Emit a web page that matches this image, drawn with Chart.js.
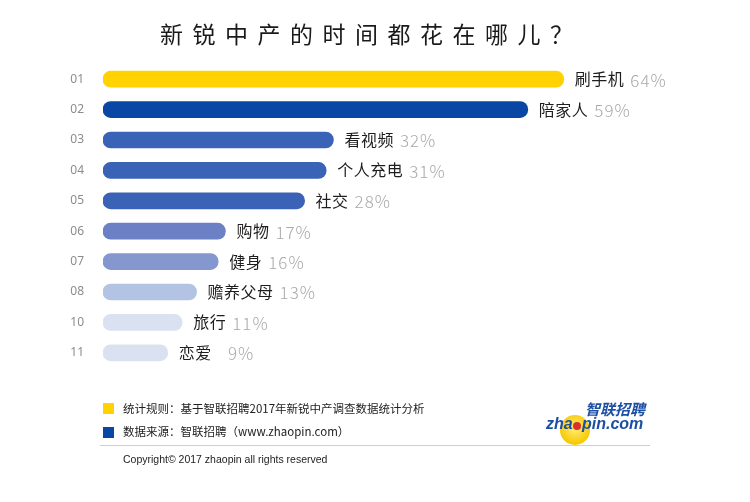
<!DOCTYPE html>
<html>
<head>
<meta charset="utf-8">
<script src="https://cdn.jsdelivr.net/npm/chart.js@4.4.1/dist/chart.umd.min.js"></script>
<style>
  html, body { margin: 0; padding: 0; background: #fff; }
  #wrap { position: relative; width: 750px; height: 502px; }
</style>
</head>
<body>
<div id="wrap"><canvas id="timeChart" width="750" height="502"></canvas></div>
<script>
// dados
const rankLabels = ['01', '02', '03', '04', '05', '06', '07', '08', '10', '11'];
const activities = ['刷手机', '陪家人', '看视频', '个人充电', '社交', '购物', '健身', '赡养父母', '旅行', '恋爱'];
const shares = [64, 59, 32, 31, 28, 17, 16, 13, 11, 9];
const barColors = ['#ffd200', '#0a47a5', '#3a62b7', '#3a62b7', '#3a62b7', '#6b80c5', '#8597cf', '#b2c3e3', '#dae2f2', '#dae2f2'];

const cjk = '"Noto Sans CJK SC", "Noto Sans", sans-serif';

// rótulos no fim das barras
const endLabels = {
    id: 'endLabels',
    afterDatasetsDraw(chart) {
        const ctx = chart.ctx;
        const meta = chart.getDatasetMeta(0);
        ctx.save();
        ctx.textBaseline = 'middle';
        meta.data.forEach((bar, i) => {
            let x = bar.x + 11;
            ctx.font = '16px ' + cjk;
            ctx.letterSpacing = '0.5px';
            ctx.fillStyle = '#1e1e1e';
            ctx.fillText(activities[i], x, bar.y);
            x += ctx.measureText(activities[i]).width + 6;
            ctx.font = '300 17px ' + cjk;
            ctx.letterSpacing = '1px';
            ctx.fillStyle = '#a9a9a9';
            const pct = (shares[i] < 10 ? '\u2007' : '') + shares[i] + '%';
            ctx.fillText(pct, x, bar.y + 1);
        });
        ctx.restore();
    }
};

// título, legenda, rodapé e logotipo
const decorations = {
    id: 'decorations',
    afterDraw(chart) {
        const ctx = chart.ctx;
        ctx.save();
        ctx.fillStyle = '#1a1a1a';
        ctx.font = '23px ' + cjk;
        ctx.textBaseline = 'middle';
        ctx.textAlign = 'left';
        ctx.letterSpacing = '9.5px';
        ctx.fillText('新锐中产的时间都花在哪儿？', 160, 34);
        ctx.letterSpacing = '0px';

        // legenda
        ctx.fillStyle = '#ffd200';
        ctx.fillRect(103, 403, 11, 11);
        ctx.fillStyle = '#0a47a5';
        ctx.fillRect(103, 427, 11, 11);
        ctx.fillStyle = '#222';
        ctx.font = '11.5px ' + cjk;
        ctx.fillText('统计规则：基于智联招聘2017年新锐中产调查数据统计分析', 123, 409);
        ctx.fillText('数据来源：智联招聘（www.zhaopin.com）', 123, 432);

        ctx.strokeStyle = '#cfcfcf';
        ctx.lineWidth = 1;
        ctx.beginPath();
        ctx.moveTo(100, 445.5);
        ctx.lineTo(650, 445.5);
        ctx.stroke();

        ctx.fillStyle = '#222';
        ctx.font = '10.5px "Liberation Sans", sans-serif';
        ctx.fillText('Copyright© 2017 zhaopin all rights reserved', 123, 460);

        // logotipo
        const grad = ctx.createRadialGradient(575, 428, 2, 575, 428, 16);
        grad.addColorStop(0, '#ffe96a');
        grad.addColorStop(1, '#f7c800');
        ctx.fillStyle = grad;
        ctx.beginPath();
        ctx.arc(575, 430, 15, 0, Math.PI * 2);
        ctx.fill();
        ctx.fillStyle = '#1c4fa3';
        ctx.font = 'italic bold 15px ' + cjk;
        ctx.fillText('智联招聘', 585, 409);
        ctx.font = 'italic bold 16px "Liberation Sans", sans-serif';
        ctx.fillText('zha', 546, 425);
        ctx.fillStyle = '#d8322a';
        ctx.beginPath();
        ctx.arc(577, 426, 4, 0, Math.PI * 2);
        ctx.fill();
        ctx.fillStyle = '#1c4fa3';
        ctx.fillText('pin.com', 582, 425);
        ctx.restore();
    }
};

new Chart(document.getElementById('timeChart'), {
    type: 'bar',
    data: {
        labels: rankLabels,
        datasets: [{
            data: shares,
            backgroundColor: barColors,
            borderSkipped: false,
            borderRadius: 8,
            barThickness: 16
        }]
    },
    options: {
        indexAxis: 'y',
        responsive: false,
        animation: false,
        layout: { padding: { left: 0, right: 71, top: 64, bottom: 134 } },
        plugins: {
            legend: { display: false },
            tooltip: { enabled: false }
        },
        scales: {
            x: {
                display: false,
                min: 0,
                max: 80
            },
            y: {
                grid: { display: false },
                border: { display: false },
                ticks: {
                    color: '#8c8c8c',
                    font: { size: 12, family: '"Noto Sans", sans-serif' },
                    padding: 11
                },
                afterFit(scale) { scale.width = 103; }
            }
        }
    },
    plugins: [endLabels, decorations]
});
</script>
</body>
</html>
